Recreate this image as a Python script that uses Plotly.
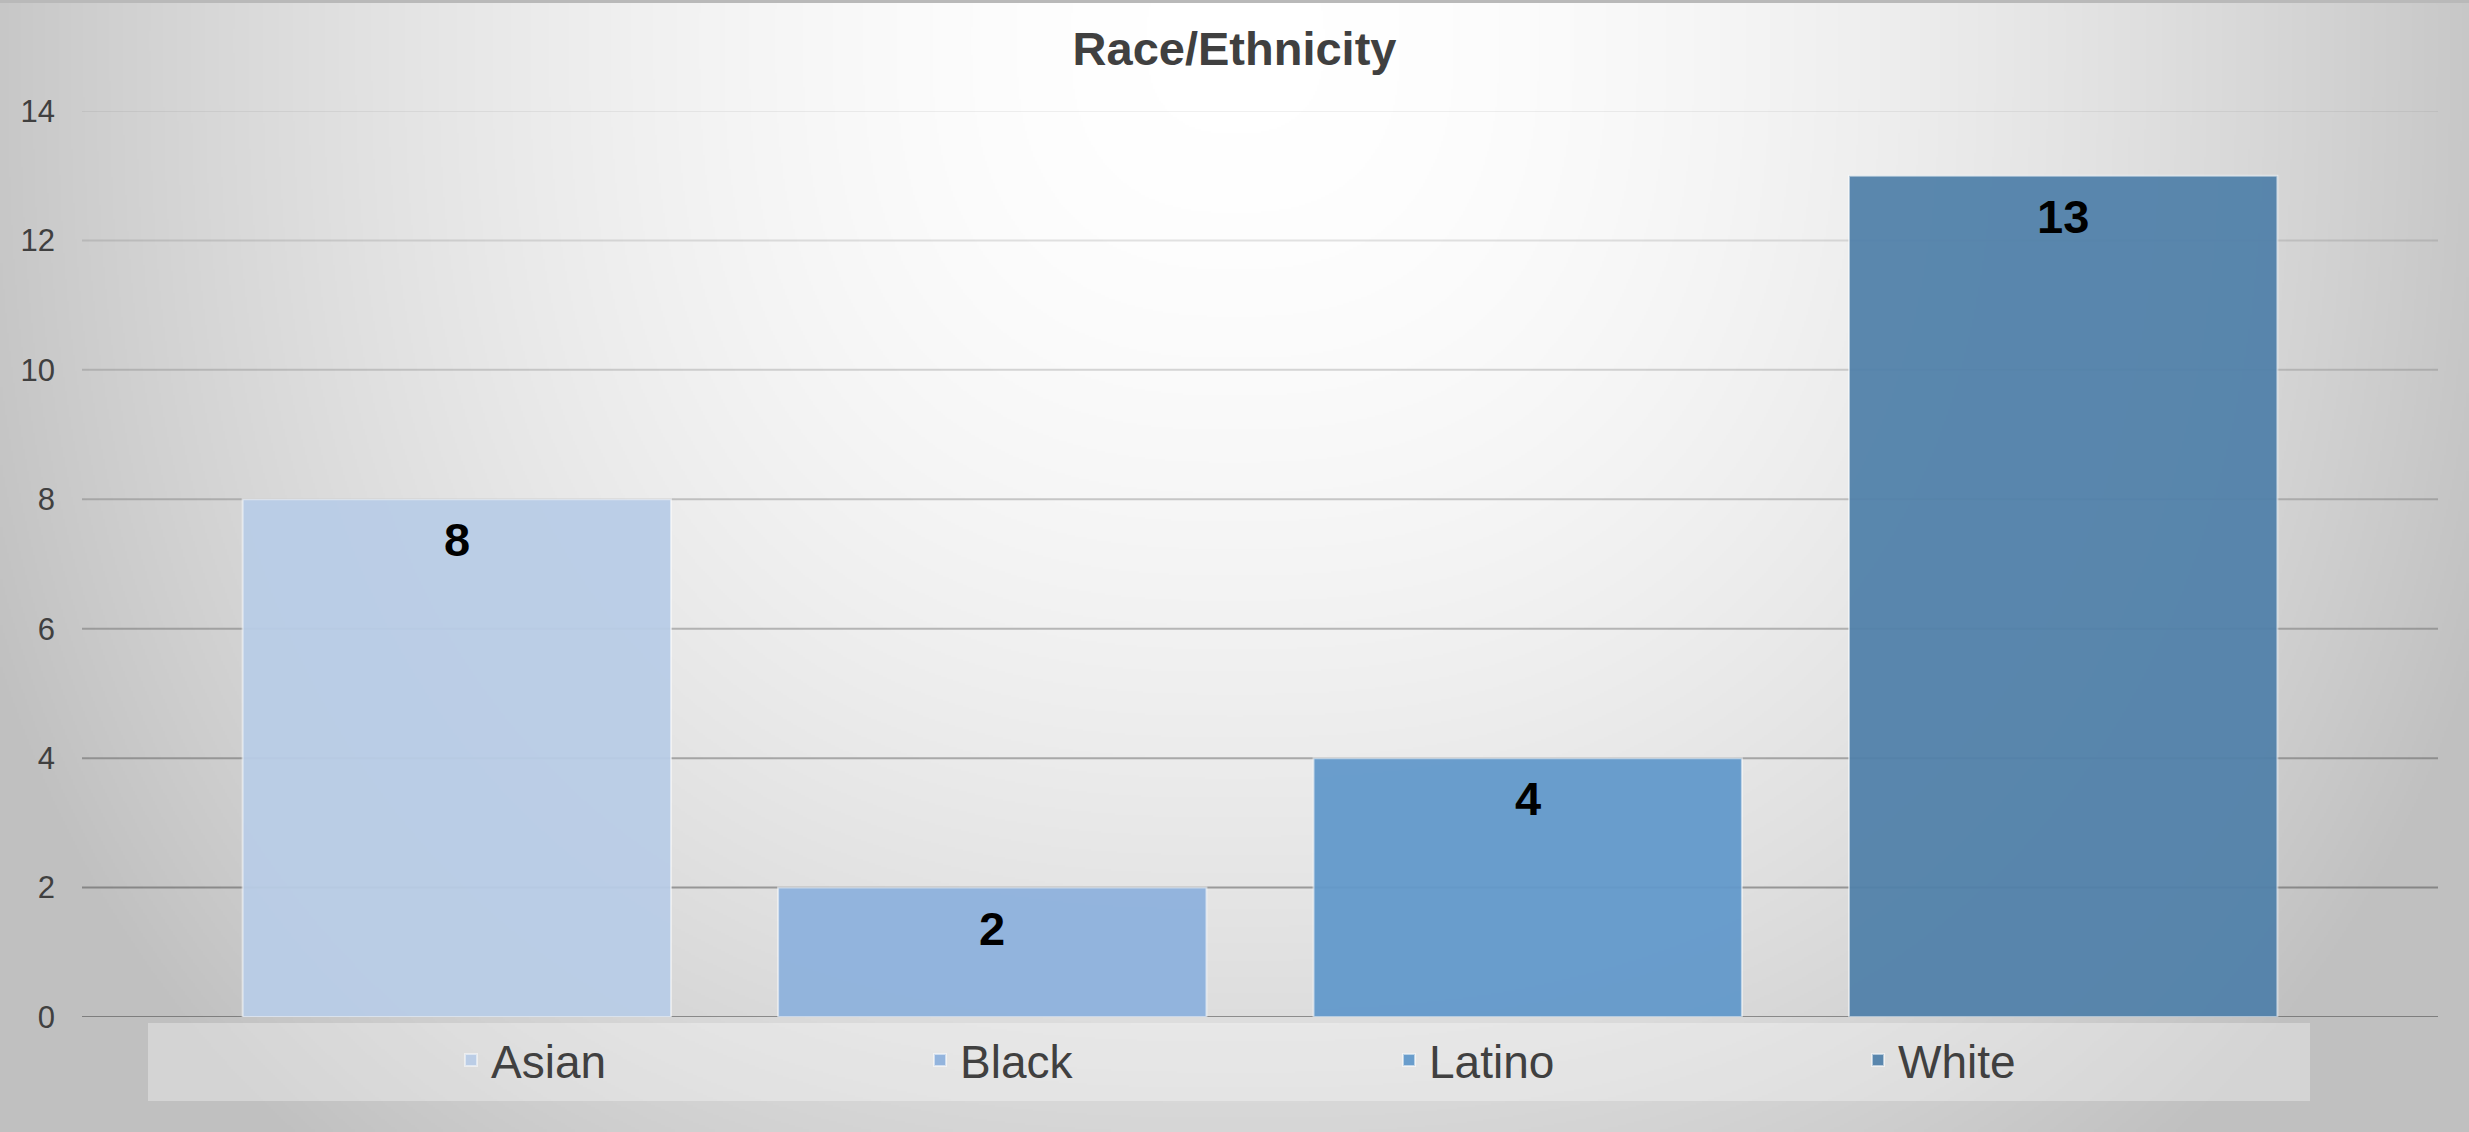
import base64
import struct
import zlib

import numpy as np
import plotly.graph_objects as go

# ---- data -------------------------------------------------------------
categories = ["Asian", "Black", "Latino", "White"]
counts = [8, 2, 4, 13]
bar_colors = ["#b9cde7", "#8eb2dd", "#6299cb", "#5181aa"]
y_ticks = [0, 2, 4, 6, 8, 10, 12, 14]
title_text = "Race/Ethnicity"

# ---- canvas geometry ----------------------------------------------------
W, H = 2469, 1132
M_L, M_R, M_T, M_B = 82, 31, 111, 115
PW = W - M_L - M_R
PH = H - M_T - M_B
FONT = "Liberation Sans, Arial, sans-serif"
TEXT_GREY = "#404040"


def png_uri(gray):
    """Encode a 2-D uint8 array as a greyscale PNG data URI."""
    h, w = gray.shape
    raw = b"".join(b"\x00" + gray[i].tobytes() for i in range(h))

    def chunk(tag, data):
        body = tag + data
        return struct.pack(">I", len(data)) + body + struct.pack(">I", zlib.crc32(body) & 0xFFFFFFFF)

    ihdr = struct.pack(">IIBBBBB", w, h, 8, 0, 0, 0, 0)
    png = (b"\x89PNG\r\n\x1a\n" + chunk(b"IHDR", ihdr)
           + chunk(b"IDAT", zlib.compress(raw, 9)) + chunk(b"IEND", b""))
    return "data:image/png;base64," + base64.b64encode(png).decode()


# soft radial backdrop: white near the title, grey towards the corners
step = 2
gx = np.arange(0, W, step, dtype=float)
gy = np.arange(0, H, step, dtype=float)
X, Y = np.meshgrid(gx, gy)
u = np.abs(X - W / 2) / (W / 2)
v = np.abs(Y - 40) / 1290
r = (u ** 2.5 + v ** 2.5) ** (1 / 2.5)
shade = 255 - np.clip(56 * r ** 1.8, 0, 63)
backdrop = png_uri(shade.round().astype(np.uint8))

fig = go.Figure()

for name, val, col in zip(categories, counts, bar_colors):
    fig.add_trace(go.Bar(
        x=[name], y=[val], name=name,
        marker=dict(color=col, line=dict(color="rgba(255,255,255,0.55)", width=2)),
        opacity=0.94,
        hoverinfo="x+y",
    ))
    # value label sitting just inside the top of each bar
    fig.add_annotation(
        x=name, y=val, text=str(val), showarrow=False,
        yanchor="top", yshift=-12,
        font=dict(family=FONT, size=47, color="#000000", weight="bold"),
    )

# horizontal gridlines, fading from dark at the base to light at the top
for t in y_ticks:
    frac = t / max(y_ticks)
    alpha = 0.50 - 0.42 * frac
    fig.add_shape(
        type="line", xref="paper", yref="y", x0=0, x1=1, y0=t, y1=t,
        line=dict(color=f"rgba(60,60,60,{alpha:.3f})", width=2), layer="below",
    )

# legend panel
fig.add_shape(
    type="rect", xref="paper", yref="paper",
    x0=(148 - M_L) / PW, x1=(2310 - M_L) / PW,
    y0=-(1101 - (H - M_B)) / PH, y1=-(1023 - (H - M_B)) / PH,
    fillcolor="rgba(255,255,255,0.32)", line=dict(width=0), layer="below",
)

# thin frame along the top edge
top_y = 1 + M_T / PH
fig.add_shape(
    type="line", xref="paper", yref="paper",
    x0=-M_L / PW, x1=(W - M_L) / PW, y0=top_y - 1.5 / PH, y1=top_y - 1.5 / PH,
    line=dict(color="#b9b9b9", width=3),
)

fig.add_layout_image(
    source=backdrop, xref="paper", yref="paper",
    x=-M_L / PW, y=top_y, sizex=W / PW, sizey=H / PH,
    xanchor="left", yanchor="top", sizing="stretch", layer="below",
)

fig.update_layout(
    width=W, height=H, autosize=False,
    margin=dict(l=M_L, r=M_R, t=M_T, b=M_B, pad=0),
    paper_bgcolor="#e2e2e2", plot_bgcolor="rgba(0,0,0,0)",
    bargap=0.2, showlegend=True,
    title=dict(
        text=title_text, x=0.5, xref="container", xanchor="center",
        y=1 - 49 / H, yref="container", yanchor="middle",
        font=dict(family=FONT, size=47, color=TEXT_GREY, weight="bold"),
    ),
    legend=dict(
        orientation="h", x=(451 - M_L) / PW, xanchor="left",
        y=-(1060 - (H - M_B)) / PH, yanchor="middle",
        entrywidth=424, bgcolor="rgba(0,0,0,0)", borderwidth=0,
        font=dict(family=FONT, size=46, color=TEXT_GREY),
        traceorder="normal",
    ),
    xaxis=dict(
        range=[-0.7, len(categories) - 0.3], showticklabels=False,
        showgrid=False, zeroline=False, showline=False, ticks="",
        categoryorder="array", categoryarray=categories,
    ),
    yaxis=dict(
        range=[0, 14], tickvals=y_ticks, showgrid=False, zeroline=False,
        showline=False, ticks="", ticklabelstandoff=26,
        tickfont=dict(family=FONT, size=31, color=TEXT_GREY),
    ),
)

fig.write_html("out.html")
